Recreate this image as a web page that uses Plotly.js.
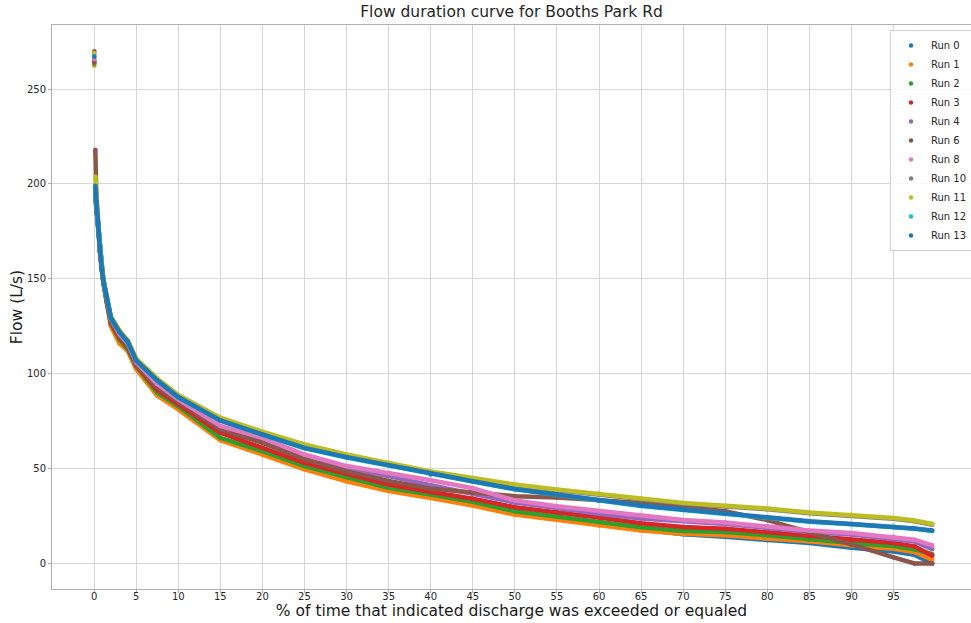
<!DOCTYPE html>
<html><head><meta charset="utf-8">
<script src="https://cdn.plot.ly/plotly-3.0.1.min.js"></script>
<style>html,body{margin:0;padding:0;background:#fff;} #chart{width:971px;height:623px;}</style>
</head><body><div id="chart"></div>
<script>
// ---- data ----
const runNames = ['Run 0','Run 1','Run 2','Run 3','Run 4','Run 6','Run 8','Run 10','Run 11','Run 12','Run 13'];
const pctExceeded = [0.15, 0.3, 0.5, 0.7, 0.9, 1.1, 1.5, 2, 3, 4, 5, 7.5, 10, 15, 20, 25, 30, 35, 40, 45, 50, 55, 60, 65, 70, 75, 80, 85, 90, 95, 97.5, 99.6];
const peakPct = 0.03;
const peakFlow = [264, 262.5, 263.5, 264.5, 265.5, 270, 266, 268.5, 269, 267.5, 267];

const flowRun0  = [196, 186, 178.5, 164.5, 155.5, 148.5, 138, 126, 117, 112.5, 103, 89.2, 82, 65.6, 58.1, 50.3, 44, 38.8, 35.1, 31.1, 26.3, 23.7, 20.6, 17.9, 15.4, 14.0, 12.2, 10.7, 8.2, 6.3, 4.5, 0];
const flowRun1  = [192, 185.5, 178, 164, 155, 148, 137.5, 125, 116, 112, 102.5, 88.5, 81.2, 64.9, 57.4, 49.6, 43.3, 38.1, 34.5, 30.5, 25.7, 23.1, 20, 17.3, 15.6, 14.8, 13.1, 11.6, 9.5, 7.7, 6, 2];
const flowRun2  = [193, 186, 178.5, 164.5, 155.5, 148.5, 138, 126.5, 118, 113, 104, 90, 82.8, 66.2, 59.2, 51.3, 45.5, 39.8, 36.3, 32.5, 27.5, 24.8, 22, 19, 17.1, 16.5, 14.8, 12.5, 10.7, 9.2, 7.5, 4.8];
const flowRun3  = [194, 186.5, 179, 165, 156, 149, 138.5, 127, 119, 114, 104.5, 91.5, 83.9, 68.9, 60.9, 53, 47.2, 41.6, 37.6, 34.1, 29.6, 27, 24.2, 21.2, 19.2, 18.3, 16.5, 14.3, 12.5, 10.7, 9, 4];
const flowRun4  = [196, 187, 179.5, 165, 156, 149, 140, 128.5, 120.5, 115.5, 105.5, 94, 86, 71.5, 65.4, 56, 49.6, 46, 41.2, 36.8, 32.1, 29.2, 26.1, 23.6, 22.2, 20.8, 18.7, 16.5, 15.2, 13, 11.5, 7.5];
const flowRun6  = [218, 186, 178, 164, 155, 148, 139, 128, 120, 115, 105, 93, 85.3, 70.7, 63.5, 55, 48.5, 43.5, 39.3, 37.4, 35.4, 34.7, 33.2, 31.9, 29.8, 27.5, 22.8, 16.7, 10, 3.2, 0, 0];
const flowRun8  = [197, 187.5, 179.5, 165.5, 156.5, 149.5, 140, 129, 121, 116, 106, 94.5, 86.5, 72.4, 66.2, 57.4, 51.3, 47.7, 43.8, 39.6, 33.2, 30.1, 27.5, 25.2, 22.9, 21.6, 19.6, 17.3, 16, 14, 12.5, 9.5];
const flowRun10 = [198, 188.5, 179.5, 165.5, 156.5, 149.5, 140.5, 129.6, 122.6, 117.1, 107.6, 97.1, 88.5, 76.4, 69, 62.3, 57, 52.6, 48.1, 44.6, 41.2, 38.6, 36.4, 33.8, 31.5, 30, 28.5, 26.4, 25.2, 23.5, 22.2, 20.4];
const flowRun11 = [204, 189, 180, 166, 157, 150, 141, 130, 123, 117.5, 108, 97.5, 88.8, 76.8, 69.4, 62.7, 57.4, 53, 48.5, 45, 41.6, 39, 36.8, 34.2, 31.9, 30.4, 28.9, 26.8, 25.6, 23.9, 22.6, 20.8];
const flowRun12 = [195, 186.5, 178.5, 164.5, 155.5, 148.5, 140, 129.2, 121.8, 116.3, 106.8, 96.3, 87.5, 75.2, 67.8, 60.7, 55.8, 51.6, 46.8, 43.1, 39, 36.2, 33, 30.3, 28.2, 26.1, 24.1, 22, 20.6, 19.2, 18.2, 17.1];
const flowRun13 = [199, 187, 179, 165, 156, 149, 140.5, 129.5, 122, 117, 107, 96.5, 87.7, 75.4, 68, 60.9, 56, 51.8, 47, 43.3, 39.2, 36.4, 33.2, 30.5, 28.4, 26.3, 24.3, 22.2, 20.8, 19.3, 18.4, 17.3];

const xTicks = [0,5,10,15,20,25,30,35,40,45,50,55,60,65,70,75,80,85,90,95];
const yTicks = [0,50,100,150,200,250];

// ---- style ----
const flows = [flowRun0, flowRun1, flowRun2, flowRun3, flowRun4, flowRun6, flowRun8, flowRun10, flowRun11, flowRun12, flowRun13];
const colors = ['#1f77b4','#ff7f0e','#2ca02c','#d62728','#9467bd','#8c564b','#e377c2','#7f7f7f','#bcbd22','#17becf','#1f77b4'];

const traces = [];
flows.forEach((f, i) => {
  traces.push({
    type: 'scatter', mode: 'lines+markers', x: pctExceeded, y: f,
    line: {color: colors[i], width: 4.5}, marker: {color: colors[i], size: 4.5},
    showlegend: false, hoverinfo: 'skip'
  });
});
flows.forEach((f, i) => {
  traces.push({
    type: 'scatter', mode: 'markers', x: [peakPct], y: [peakFlow[i]],
    marker: {color: colors[i], size: 4.5},
    name: runNames[i], showlegend: true
  });
});

const font = 'DejaVu Sans, sans-serif';
const axisCommon = {
  showgrid: true, gridcolor: '#d6d6d6', gridwidth: 1, zeroline: false,
  showline: true, linecolor: '#b0b0b0', linewidth: 1,
  ticks: 'outside', ticklen: 3, tickcolor: '#b0b0b0',
  tickfont: {family: font, size: 10, color: '#262626'}, automargin: false
};

const layout = {
  width: 971, height: 623,
  margin: {l: 52, r: 0, t: 25, b: 34, autoexpand: false},
  paper_bgcolor: '#ffffff', plot_bgcolor: '#ffffff',
  font: {family: font, color: '#262626'},
  title: {text: 'Flow duration curve for Booths Park Rd', font: {family: font, size: 15.5, color: '#262626'},
          x: 0.5, xref: 'paper', xanchor: 'center', y: 1 - 12/623, yref: 'container', yanchor: 'middle'},
  xaxis: Object.assign({}, axisCommon, {
    range: [-5, 104.2], tickvals: xTicks, ticktext: xTicks.map(String), mirror: true,
    ticklabelstandoff: -5,
    title: {text: '% of time that indicated discharge was exceeded or equaled', font: {family: font, size: 15.5, color: '#1a1a1a'}, standoff: 4}
  }),
  yaxis: Object.assign({}, axisCommon, {
    range: [-13.5, 283.8], tickvals: yTicks, ticktext: yTicks.map(String),
    title: {text: 'Flow (L/s)', font: {family: font, size: 15.5, color: '#1a1a1a'}, standoff: 0}
  }),
  legend: {x: (890-52)/919, xanchor: 'left', y: 0.991, yanchor: 'top', tracegroupgap: 0,
           bgcolor: 'rgba(255,255,255,0.85)', bordercolor: '#d0d0d0', borderwidth: 1,
           font: {family: font, size: 10, color: '#262626'}},
  showlegend: true
};

Plotly.newPlot('chart', traces, layout, {displayModeBar: false, staticPlot: true});
</script>
</body></html>
